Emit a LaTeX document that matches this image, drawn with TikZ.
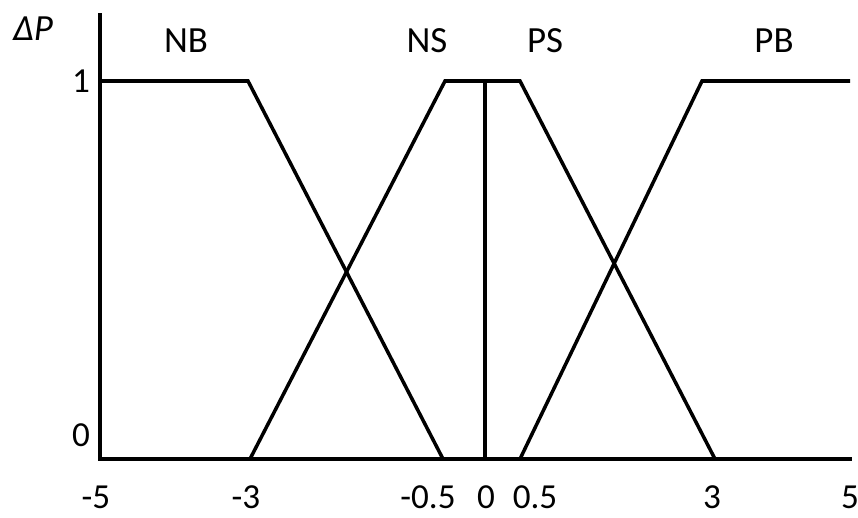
\documentclass[tikz,border=0pt]{standalone}
\usepackage{fontspec}
\setmainfont{Carlito}

\begin{document}
\begin{tikzpicture}[x=0.02cm, y=-0.02cm]
            \tikzstyle{axis} = [line width=2.8pt, line cap=rect]
            \tikzstyle{member} = [line width=2pt, line join=miter]
            \tikzstyle{lbl} = [font=\fontsize{21}{24}\selectfont, inner sep=0pt]
            \tikzstyle{tick} = [font=\fontsize{20}{24}\selectfont, inner sep=0pt]

            \useasboundingbox (0,0) rectangle (858,517);

            % axes
            \coordinate (origin) at (100,459);
            \coordinate (ytop) at (100,15);
            \coordinate (xend) at (850,459);
            \draw [axis] (ytop) -- (origin) -- (xend);

            % membership functions
            \coordinate (nbA) at (100,81);
            \coordinate (nbB) at (248,81);
            \coordinate (nbC) at (443,459);
            \coordinate (nsA) at (250,459);
            \coordinate (nsB) at (445,81);
            \coordinate (psB) at (520,81);
            \coordinate (psC) at (715,459);
            \coordinate (pbA) at (520,459);
            \coordinate (pbB) at (702,81);
            \coordinate (pbC) at (850,81);
            \coordinate (zeroTop) at (485,81);
            \coordinate (zeroBot) at (485,459);

            \draw [member] (nbA) -- (nbB) -- (nbC);
            \draw [member] (nsA) -- (nsB) -- (psB) -- (psC);
            \draw [member] (pbA) -- (pbB) -- (pbC);
            \draw [member] (zeroTop) -- (zeroBot);

            % labels
            \node (dp) [lbl] at (33,29) {\textit{ΔP}};
            \node (nb) [lbl] at (186,41) {NB};
            \node (ns) [lbl] at (427,41) {NS};
            \node (ps) [lbl] at (545,41) {PS};
            \node (pb) [lbl] at (774,41) {PB};
            \node (one) [tick] at (81,81) {1};
            \node (zero) [tick] at (81,435) {0};

            \node (xm5) [tick] at (96,497) {-5};
            \node (xm3) [tick] at (246,497) {-3};
            \node (xm05) [tick] at (428,497) {-0.5};
            \node (x0) [tick] at (486,497) {0};
            \node (x05) [tick] at (535,497) {0.5};
            \node (x3) [tick] at (712,497) {3};
            \node (x5) [tick] at (850,497) {5};
        \end{tikzpicture}
\end{document}
